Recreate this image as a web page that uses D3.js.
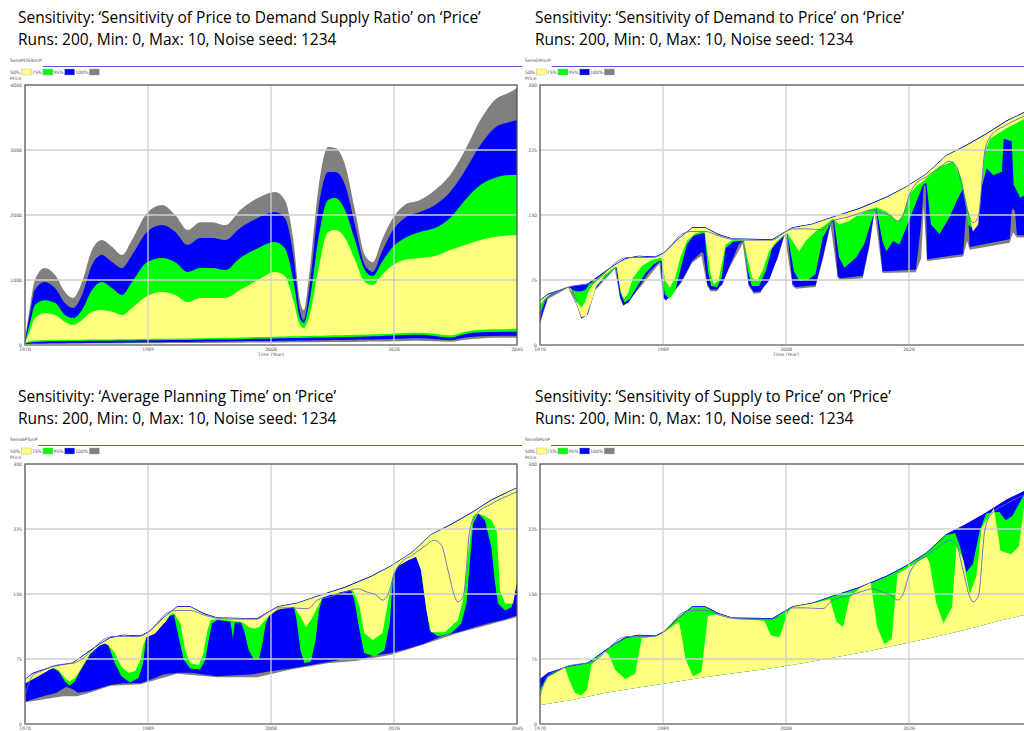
<!DOCTYPE html>
<meta charset="utf-8">
<style>
body { margin: 0; background: #fff; }
svg { display: block; }
.title { font: 15.5px "Open Sans", sans-serif; fill: #000; }
.tiny { font: 4.6px "DejaVu Sans", sans-serif; fill: #555; }
</style>
<svg width="1024" height="731"></svg>
<script src="https://d3js.org/d3.v7.min.js"></script>
<script>

// ---- data ----
var xTickYears = [1970, 1988.75, 2007.5, 2026.25, 2045];
var xTickLabels = ["1970", "1989", "2008", "2026", "2045"];
var yLabelsPrice4000 = ["0", "1000", "2000", "3000", "4000"];
var yLabelsPrice300 = ["0", "75", "150", "225", "300"];
var legendNames = ["50%", "75%", "95%", "100%"];

// top-left panel, shared time grid
var tlYears = [1970,1970.8,1971.5,1973,1974.6,1976.1,1977.3,1978.7,1980.2,1981.7,1983.3,1984.8,1986.3,1988.6,1990.9,1992.9,1994.8,1996.7,1998.5,2000.5,2002.8,2005.5,2008.1,2009.6,2010.9,2011.9,2012.5,2013.4,2014.7,2016.2,2017.3,2018.8,2020.3,2021.8,2023.0,2024.4,2025.9,2027.9,2030.2,2032.5,2034.8,2037.1,2039.4,2041.6,2043.9,2045];
var tlGrayHi = [77,615,1000,1185,1077,815,723,970,1460,1615,1508,1385,1615,2030,2155,2000,1770,1890,1890,1845,2075,2260,2355,2230,1615,690,540,1155,2385,3045,3030,2770,2075,1385,1275,1615,1925,2155,2230,2385,2615,3000,3460,3770,3890,3955];
var tlBlueHi = [62,510,845,970,875,645,570,770,1230,1385,1275,1185,1385,1740,1845,1740,1540,1645,1645,1615,1800,1955,2045,1955,1385,540,385,925,2075,2660,2660,2460,1845,1230,1125,1430,1740,1955,2045,2155,2355,2690,3075,3340,3430,3460];
var tlGreenHi = [46,355,615,690,645,460,415,540,845,970,875,770,970,1275,1340,1275,1125,1185,1185,1155,1340,1490,1585,1490,1000,415,340,690,1615,2230,2260,2075,1615,1155,1060,1275,1490,1645,1740,1800,1955,2230,2460,2570,2615,2615];
var tlYellowHi = [31,230,415,490,460,355,310,385,510,540,510,460,570,755,815,770,660,725,725,725,845,1000,1125,1060,690,310,260,460,1155,1740,1770,1645,1310,970,925,1075,1215,1310,1340,1370,1460,1540,1615,1660,1690,1690];
var tlYellowLo = [30,60,70,75,75,78,80,82,84,85,86,88,90,92,95,98,100,104,108,112,117,122,128,131,134,136,137,139,142,146,149,153,157,161,165,169,175,185,190,175,150,205,235,243,247,250];
var tlGreenLo = [20,40,48,55,57,59,61,63,65,66,67,68,70,72,74,76,78,80,83,86,90,95,100,103,106,108,109,111,114,117,120,124,128,132,136,140,146,154,158,140,115,170,195,200,202,203];
var tlBlueLo = [10,20,22,25,27,28,29,30,32,34,36,38,40,42,44,46,48,50,52,54,57,60,63,65,67,68,69,70,72,74,76,78,80,83,86,89,94,100,103,90,75,115,135,140,142,143];
var tlGrayLo = [5,12,14,16,18,19,20,21,22,23,24,25,26,27,28,29,30,31,32,33,35,37,39,40,41,42,42,43,44,45,46,47,48,50,52,54,58,63,66,58,50,80,100,110,112,113];

// shared curves of the 0-300 panels: [year, price]
var envTop = [[1970,52],[1971.2,59],[1974.3,67],[1977.3,71],[1979.9,85],[1981.4,93],[1983,100],[1985,103],[1987.6,102],[1989.1,108],[1991.1,123],[1993.2,136],[1995.2,136],[1997.2,128],[1999.3,123],[2005.4,122],[2006.9,129],[2008.5,136],[2011.5,140],[2014.6,148],[2018.7,158],[2022.8,171],[2025.8,183],[2028.9,198],[2031.9,219],[2035,231],[2038,244],[2041.1,259],[2044.1,270],[2045,273]];
var envInner = [[1970,51],[1971.2,58],[1974.3,66],[1977.3,70],[1979.9,84],[1981.4,92],[1983,99],[1985,102],[1987.6,101],[1989.1,107],[1991.1,122],[1993.2,135],[1995.2,135],[1997.2,127],[1999.3,122],[2005.4,121],[2006.9,128],[2008.5,135],[2011.5,139],[2014.6,147],[2018.7,157],[2022.8,170],[2025.8,182],[2028.9,197],[2031.9,218],[2035,230],[2038,243],[2041.1,258],[2044.1,269],[2045,272]];
var baseRun = [[1970,32],[1970.5,45],[1971.2,56],[1972.8,62],[1974.3,67],[1975.8,69],[1977.3,70],[1978.9,76],[1980.4,87],[1981.9,97],[1983.5,101],[1985,101],[1987,101],[1988.6,105],[1990.1,116],[1991.6,128],[1993.2,131],[1995.2,131],[1997.2,126],[1999.3,122],[2001.3,121],[2005.4,121],[2006.9,128],[2008.5,134],[2010.5,134],[2013.1,133],[2014.6,143],[2016.6,147],[2018.7,152],[2020.7,156],[2022.2,152],[2023.5,149],[2024.5,143],[2025.3,149],[2026.3,173],[2027.3,186],[2028.9,194],[2030.9,205],[2032.4,212],[2033.5,206],[2034.5,177],[2035.5,147],[2036,141],[2036.8,147],[2037.8,223],[2038.6,240],[2041.1,254],[2044.1,265],[2045,268]];

// top-right panel
var trGreenHi = [[1970,51],[1971.2,58],[1974.3,66],[1974.8,64],[1975.5,62],[1976.3,62],[1977,64],[1977.5,70],[1979.9,84],[1981.4,92],[1983,99],[1985,102],[1987.6,101],[1989.1,107],[1991.1,122],[1993.2,135],[1995.2,135],[1997.2,127],[1999.3,122],[2005.4,121],[2006.9,128],[2008.5,135],[2011.5,139],[2014.6,147],[2018.7,157],[2022.8,170],[2025.8,182],[2028.9,197],[2031.9,218],[2035,230],[2038,243],[2041.1,258],[2044.1,269],[2045,272]];
var trYellowHi = [[1970,51],[1971.2,58],[1974.3,66],[1974.9,62],[1975.6,50],[1976.3,43],[1976.9,50],[1977.4,62],[1978,69],[1979.9,84],[1981.4,92],[1983,99],[1985,102],[1987.6,101],[1989.1,107],[1991.1,122],[1993.2,135],[1995.2,135],[1997.2,127],[1999.3,122],[2005.4,121],[2006.9,128],[2008.5,135],[2011.5,139],[2014.6,147],[2018.7,157],[2022.8,170],[2025.8,182],[2028.9,197],[2031.9,218],[2035,230],[2038,243],[2041.1,258],[2044.1,269],[2045,272]];
var trYellowLo = [[1970,46],[1970.7,53],[1971.7,59],[1974.3,66],[1974.8,64],[1975.6,47],[1976.3,32],[1977.1,34],[1977.9,51],[1978.6,68],[1979.9,81],[1981.4,90],[1981.7,90],[1982.3,62],[1982.8,53],[1983.4,59],[1984.2,78],[1985.5,91],[1987,98],[1988.2,100],[1988.5,101],[1989.1,74],[1989.8,66],[1990.6,78],[1991.4,101],[1992.4,120],[1993.7,129],[1994.8,131],[1995.1,131],[1995.5,108],[1996,82],[1996.5,70],[1997.2,74],[1997.8,97],[1998.3,116],[1999.3,121],[2000.9,121],[2001.1,121],[2001.6,101],[2002.3,78],[2003.1,74],[2003.9,85],[2004.9,108],[2005.9,118],[2007.2,127],[2007.7,129],[2008.5,120],[2009.5,108],[2010.5,120],[2012,131],[2013.6,139],[2014.5,145],[2014.8,145],[2015.6,139],[2017.1,143],[2018.7,151],[2020.2,156],[2021,158],[2021.2,159],[2022.8,154],[2023.8,147],[2024.5,142],[2025.3,149],[2026.3,173],[2027.3,183],[2028.4,189],[2030.9,206],[2033,212],[2034.2,193],[2035.3,154],[2036,131],[2036.8,139],[2037.8,223],[2038.6,238],[2041.1,250],[2044.1,262],[2045,265]];
var trGreenLo = [[1970,36],[1970.7,51],[1971.7,58],[1974.3,67],[1974.8,65],[1975.6,51],[1976.3,36],[1977.3,43],[1978.4,66],[1979.9,78],[1981.4,89],[1981.7,89],[1982.3,59],[1982.9,49],[1983.7,53],[1984.7,66],[1986,82],[1987.3,93],[1988.2,97],[1988.5,97],[1989,59],[1989.7,53],[1990.6,62],[1991.6,93],[1992.4,116],[1993.4,126],[1994.8,129],[1995.1,129],[1995.6,85],[1996.1,68],[1997,67],[1997.7,78],[1998.3,112],[1999.5,119],[2000.9,120],[2001.1,120],[2001.7,85],[2002.3,68],[2003.4,68],[2004.4,85],[2005.4,112],[2006.4,120],[2007.3,127],[2007.7,129],[2008.7,85],[2009.5,74],[2011,76],[2012,82],[2013.1,124],[2014.5,143],[2014.8,144],[2015.6,101],[2016.4,89],[2018.2,101],[2019.4,116],[2020.7,147],[2021.1,157],[2021.3,157],[2022.2,120],[2022.8,108],[2023.8,120],[2024.8,116],[2025.8,135],[2026.8,154],[2028.4,185],[2028.9,187],[2029.6,139],[2030.9,128],[2032.4,147],[2033.5,166],[2034.5,181],[2035.3,139],[2035.8,135],[2037,173],[2038.1,204],[2039.1,196],[2040.4,200],[2040.7,238],[2041.9,235],[2042.2,185],[2043.2,170],[2044.1,174],[2045,176]];
var trBlueLo = [[1970,26],[1970.5,39],[1971.2,55],[1972.8,62],[1974.3,67],[1974.8,65],[1975.6,47],[1976.3,31],[1977.3,36],[1978.4,64],[1979.9,78],[1981.4,89],[1981.6,90],[1982.2,55],[1982.7,46],[1983.5,49],[1985,66],[1986.5,83],[1988.2,96],[1988.4,95],[1988.8,55],[1989.2,52],[1990.1,58],[1991.6,74],[1993.2,97],[1994.6,107],[1994.9,106],[1995.5,70],[1996,64],[1997,64],[1997.8,70],[1999,93],[2000.3,116],[2000.9,120],[2001.2,119],[2001.8,70],[2002.6,61],[2003.6,62],[2004.9,74],[2006.2,101],[2007.3,129],[2007.7,129],[2008.5,70],[2009,67],[2012,69],[2013.1,101],[2014.3,141],[2014.7,142],[2015.4,79],[2015.9,77],[2019.2,80],[2020.2,116],[2021,157],[2021.3,157],[2022.2,85],[2022.8,85],[2027.3,87],[2028.1,139],[2028.5,185],[2028.8,183],[2029,99],[2034.5,105],[2034.9,147],[2035.1,154],[2035.3,152],[2035.5,113],[2041.6,122],[2041.9,154],[2042.1,158],[2042.4,154],[2042.7,127],[2044.1,126],[2045,127]];
var trGrayLo = [[1970,25],[1971.2,53],[1974.3,66],[1975.6,46],[1976.3,30],[1977.3,35],[1978.4,63],[1981.4,88],[1982.2,54],[1982.7,45],[1985,64],[1988.2,94],[1988.8,54],[1989.2,51],[1991.6,72],[1993.2,95],[1994.6,103],[1995.5,68],[1996,62],[1997,62],[1999,91],[2000.9,117],[2001.8,68],[2002.6,59],[2003.6,60],[2006.2,99],[2007.3,127],[2008.5,68],[2009,65],[2012,67],[2013.1,98],[2014.3,138],[2015.4,77],[2015.9,75],[2019.2,77],[2020.2,112],[2021,154],[2022.2,83],[2027.3,84],[2028.1,100],[2028.5,160],[2029,97],[2034.5,102],[2035.1,120],[2035.5,110],[2041.6,118],[2042.1,130],[2042.7,124],[2045,124]];

// bottom-left panel
var blYellowLo = [[1970.1,47],[1974.3,65],[1975.1,62],[1976.1,53],[1976.8,49],[1977.6,53],[1978.4,62],[1979.9,81],[1981.4,91],[1982.2,93],[1982.7,91],[1983.7,82],[1984.7,66],[1985.8,59],[1986.8,61],[1987.6,74],[1988.1,93],[1988.5,100],[1989.8,104],[1991.4,118],[1992.1,126],[1992.7,128],[1993.7,116],[1994.4,85],[1995.2,70],[1996.5,68],[1997.2,82],[1997.8,108],[1998.3,120],[1999.3,121],[2002.9,118],[2003.4,116],[2004.1,112],[2004.9,110],[2005.7,112],[2006.4,118],[2007.2,125],[2008.5,132],[2011,135],[2011.4,131],[2012.3,120],[2012.8,112],[2013.6,120],[2014.6,135],[2015.4,146],[2016.6,149],[2019.7,155],[2020.2,152],[2021,135],[2021.7,105],[2023,97],[2024.5,105],[2025.3,139],[2026.1,173],[2026.8,182],[2028.4,189],[2029.6,193],[2030.4,177],[2031.2,131],[2031.9,106],[2034,106],[2036,120],[2036.9,147],[2037.6,200],[2038.3,240],[2039.1,243],[2040.1,240],[2041.1,235],[2041.9,223],[2042.4,154],[2043.2,139],[2044.4,139],[2045.1,170]];
var blGreenLo = [[1970.1,47],[1971.2,56],[1972.8,62],[1974.3,64],[1975.1,61],[1976.1,49],[1976.8,44],[1977.6,49],[1978.4,61],[1979.9,80],[1981.4,91],[1982.2,93],[1982.7,91],[1983.7,70],[1984.7,55],[1986,48],[1987.3,53],[1988,70],[1988.5,101],[1989.8,110],[1991.4,118],[1992.1,125],[1992.7,126],[1993.4,101],[1994.2,74],[1995.2,64],[1996.7,63],[1997.5,74],[1998,97],[1998.5,116],[1999.3,120],[2000.3,119],[2001.3,118],[2001.7,99],[2002,117],[2002.9,117],[2003.4,108],[2004.1,85],[2004.9,74],[2005.7,76],[2006.2,93],[2006.7,116],[2007.2,125],[2008.5,132],[2010,134],[2011,135],[2011.4,120],[2012,85],[2012.6,70],[2013.6,72],[2014.3,97],[2014.8,131],[2015.4,147],[2016.6,149],[2018.7,154],[2019.7,154],[2020.2,143],[2021,108],[2021.7,82],[2023.3,78],[2024.8,85],[2025.6,116],[2026.1,170],[2026.8,182],[2028.4,189],[2029.6,193],[2030.2,185],[2030.9,147],[2031.7,108],[2033,101],[2035,105],[2036.5,116],[2037.3,139],[2037.8,185],[2038.3,231],[2039.1,243],[2040.1,235],[2041.1,204],[2041.6,166],[2042.1,139],[2043.2,131],[2044.2,135],[2045,162]];
var blBlueLo = [[1970.1,26],[1972.2,31],[1974.8,36],[1976.3,43],[1977.3,40],[1978.1,36],[1979.9,38],[1983,45],[1985,47],[1987.6,47],[1989.1,51],[1991.1,57],[1993.2,59],[1995.2,59],[1999.3,55],[2004.4,57],[2007.4,61],[2010.5,64],[2013.6,68],[2018.2,74],[2020.7,74],[2023.3,79],[2025.8,82],[2028.4,87],[2030.9,93],[2034,103],[2036,106],[2038.6,112],[2041.1,117],[2043.2,121],[2045.3,126]];
var blGrayLo = [[1970.1,25],[1974.8,31],[1975.8,32],[1977.9,32],[1979.9,36],[1983,44],[1987.6,46],[1993.2,58],[1999.3,54],[2005.4,54],[2010.5,63],[2016.1,70],[2020.7,73],[2025.8,80],[2030.9,92],[2036,105],[2045.3,124]];

// bottom-right panel
var brGreenHi = [[1970,40],[1971.2,55],[1973,63],[1974.3,66],[1977.3,70],[1979.9,84],[1981.4,92],[1983,99],[1985,102],[1987.6,101],[1989.1,107],[1991.1,122],[1993.2,135],[1995.2,135],[1997.2,127],[1999.3,122],[2005.4,121],[2006.9,128],[2008.5,135],[2011.5,139],[2014.6,147],[2018.7,157],[2022.8,170],[2025.8,182],[2028.9,197],[2031.9,218],[2033.3,220],[2034,205],[2035,175],[2036,185],[2037,222],[2038,243],[2040,245],[2041,235],[2042,240],[2044.1,269],[2045,272]];
var brYellowHi = [[1970,36],[1971.2,54],[1973.8,65],[1974.5,50],[1975.3,36],[1976.3,33],[1977.2,40],[1977.8,68],[1979.9,84],[1980.5,80],[1981.5,62],[1983,52],[1984.5,58],[1985.5,99],[1987.6,101],[1989.1,107],[1991.2,118],[1992.2,75],[1993.3,55],[1994.6,60],[1995.6,125],[1997.2,127],[1999.3,122],[2004.2,119],[2005.2,102],[2006.5,100],[2007.8,129],[2008.5,135],[2011.5,139],[2014.2,144],[2015.2,118],[2016.2,112],[2017.2,146],[2018.7,157],[2020.4,163],[2021.4,112],[2022.5,92],[2023.6,98],[2024.5,173],[2028.9,193],[2029.4,186],[2030.4,140],[2031.5,116],[2032.8,135],[2033.5,206],[2034.5,190],[2035.5,150],[2036.5,170],[2037.3,226],[2039.2,249],[2040.2,200],[2041.8,196],[2043,205],[2043.8,251],[2045,263]];
var brBottom = [[1970,22],[1975,28],[1980,36],[1985,42],[1990,48],[1995,54],[2000,59],[2005,64],[2010,70],[2015,77],[2020,84],[2025,92],[2030,100],[2035,109],[2040,119],[2045,128]];

// ---- drawing ----
var svg = d3.select("svg");
var bandColors = ["#808080", "#0000ff", "#00ff00", "#ffff80"]; // 100%, 95%, 75%, 50%
var legendColors = ["#ffff80", "#00ff00", "#0000ff", "#808080"];

var panels = [
  { ox: 0, oy: 0, tx: 18, name: "SensPDSRonP", title: "Sensitivity: \u2018Sensitivity of Price to Demand Supply Ratio\u2019 on \u2018Price\u2019",
    yMax: 4000, yLabels: yLabelsPrice4000, lineEnd: 522, base: null, grid: tlYears,
    bands: [[tlGrayHi, tlGrayLo], [tlBlueHi, tlBlueLo], [tlGreenHi, tlGreenLo], [tlYellowHi, tlYellowLo]] },
  { ox: 515, oy: 0, tx: 535, name: "SensDPonP", title: "Sensitivity: \u2018Sensitivity of Demand to Price\u2019 on \u2018Price\u2019",
    yMax: 300, yLabels: yLabelsPrice300, lineEnd: 1024, base: baseRun,
    bands: [[envTop, trGrayLo], [envTop, trBlueLo], [trGreenHi, trGreenLo], [trYellowHi, trYellowLo]] },
  { ox: 0, oy: 379, tx: 18, name: "SensAPTonP", title: "Sensitivity: \u2018Average Planning Time\u2019 on \u2018Price\u2019",
    yMax: 300, yLabels: yLabelsPrice300, lineEnd: 522, base: baseRun,
    bands: [[envTop, blGrayLo], [envTop, blBlueLo], [envInner, blGreenLo], [envInner, blYellowLo]] },
  { ox: 515, oy: 379, tx: 535, name: "SensSPonP", title: "Sensitivity: \u2018Sensitivity of Supply to Price\u2019 on \u2018Price\u2019",
    yMax: 300, yLabels: yLabelsPrice300, lineEnd: 1024, base: baseRun,
    bands: [[envTop, brBottom], [envTop, brBottom], [brGreenHi, brBottom], [brYellowHi, brBottom]] }
];

panels.forEach(function(p, i) {
  // titles
  svg.append("text").attr("class", "title").attr("x", p.tx).attr("y", p.oy + 23).text(p.title);
  svg.append("text").attr("class", "title").attr("x", p.tx).attr("y", p.oy + 45)
    .text("Runs: 200, Min: 0, Max: 10, Noise seed: 1234");

  var g = svg.append("g").attr("transform", "translate(" + p.ox + "," + p.oy + ")");

  // variable name and rule line
  var nm = g.append("text").attr("class", "tiny").attr("x", 10).attr("y", 62).text(p.name);
  var nmEnd = 10 + nm.node().getComputedTextLength() + 1;
  g.append("line").attr("x1", nmEnd).attr("x2", p.lineEnd - p.ox).attr("y1", 66.5).attr("y2", 66.5)
    .attr("stroke", "#5a5ac8").attr("stroke-width", 1);

  // legend
  var lx = 10;
  legendNames.forEach(function(n, k) {
    var t = g.append("text").attr("class", "tiny").attr("x", lx).attr("y", 74).text(n);
    lx += t.node().getComputedTextLength() + 1;
    g.append("rect").attr("x", lx).attr("y", 69).attr("width", 10).attr("height", 6)
      .attr("fill", legendColors[k]).attr("stroke", "#aaa").attr("stroke-width", 0.4);
    lx += 10.5;
  });
  g.append("text").attr("class", "tiny").attr("x", 10).attr("y", 80).text("Price");

  var x = d3.scaleLinear().domain([1970, 2045]).range([25, 517]);
  var y = d3.scaleLinear().domain([0, p.yMax]).range([345, 85]);

  g.append("clipPath").attr("id", "clip" + i).append("rect")
    .attr("x", 25).attr("y", 85).attr("width", 492).attr("height", 260);

  var plot = g.append("g").attr("clip-path", "url(#clip" + i + ")");
  var line = d3.line().x(function(d) { return x(d[0]); }).y(function(d) { return y(d[1]); });

  p.bands.forEach(function(b, k) {
    var d;
    if (p.grid) {
      // smooth bands on a shared time grid
      d = d3.area().curve(d3.curveMonotoneX)
        .x(function(t, j) { return x(p.grid[j]); })
        .y0(function(t, j) { return y(b[1][j]); })
        .y1(function(t, j) { return y(b[0][j]); })(p.grid);
    } else {
      d = line(b[0].concat(b[1].slice().reverse())) + "Z";
    }
    plot.append("path").attr("d", d).attr("fill", bandColors[k]);
  });

  // grid over the bands
  var yTicks = d3.range(0, 5).map(function(k) { return p.yMax * k / 4; });
  plot.selectAll(".gx").data(xTickYears.slice(1, 4)).enter().append("line")
    .attr("x1", function(d) { return x(d); }).attr("x2", function(d) { return x(d); })
    .attr("y1", 85).attr("y2", 345).attr("stroke", "#cfcfcf").attr("stroke-width", 1.3);
  plot.selectAll(".gy").data(yTicks.slice(1, 4)).enter().append("line")
    .attr("y1", function(d) { return y(d); }).attr("y2", function(d) { return y(d); })
    .attr("x1", 25).attr("x2", 517).attr("stroke", "#cfcfcf").attr("stroke-width", 1.3);

  if (p.base) {
    plot.append("path").attr("d", line.curve(d3.curveMonotoneX)(p.base)).attr("fill", "none")
      .attr("stroke", "#6464c8").attr("stroke-width", 0.9);
  }

  // frame
  g.append("rect").attr("x", 25).attr("y", 85).attr("width", 492).attr("height", 260)
    .attr("fill", "none").attr("stroke", "#555").attr("stroke-width", 1.3);
  g.append("line").attr("x1", 25).attr("x2", 517).attr("y1", 345).attr("y2", 345)
    .attr("stroke", "#999").attr("stroke-width", 2);

  // tick labels (only those that fall inside the 1024x731 window)
  var xl = xTickYears.map(function(d, k) { return { v: d, label: xTickLabels[k] }; })
    .filter(function(d) { return p.ox + x(d.v) + 6 < 1024; });
  g.selectAll(".xl").data(xl).enter().append("text").attr("class", "tiny")
    .attr("x", function(d) { return x(d.v); }).attr("y", 350.5).attr("text-anchor", "middle")
    .text(function(d) { return d.label; });
  g.selectAll(".yl").data(yTicks).enter().append("text").attr("class", "tiny")
    .attr("x", 22).attr("y", function(d) { return y(d) + 1.5; }).attr("text-anchor", "end")
    .text(function(d, k) { return p.yLabels[k]; });
  if (p.oy + 356 < 731) {
    g.append("text").attr("class", "tiny").attr("x", 271).attr("y", 355.5)
      .attr("text-anchor", "middle").text("Time (Year)");
  }
});

</script>
